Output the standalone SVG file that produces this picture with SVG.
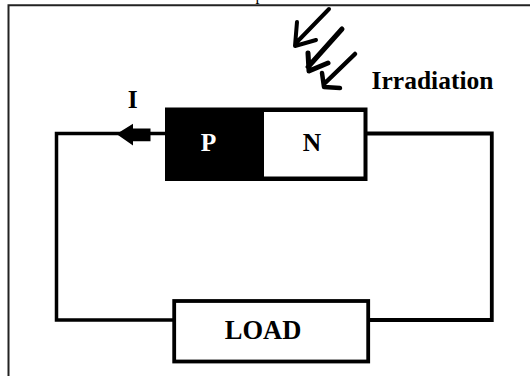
<svg xmlns="http://www.w3.org/2000/svg" width="530" height="376" viewBox="0 0 530 376">
<style>
.t{font-family:"Liberation Serif","Times New Roman",serif;font-weight:bold;fill:#000;font-size:25.5px;text-anchor:middle}
.w{fill:none;stroke:#000;stroke-linecap:butt;stroke-linejoin:miter}
.ray{fill:none;stroke:#000;stroke-width:4;stroke-linecap:round;stroke-linejoin:round}
</style>
<rect width="530" height="376" fill="#fff"/>
<path d="M8.500 376V5.200H530" fill="none" stroke="#222" stroke-width="2"/>
<text x="259.500" y="0" style="font-family:'Liberation Serif','Times New Roman',serif;font-size:16px;text-anchor:middle" fill="#000">p</text>
<g id="connectors">
<path class="w" stroke-width="3.500" d="M166 133.500H56.500V320H173"/>
<path class="w" stroke-width="3.800" d="M366 133.500H491.800V320H369"/>
<path id="current-arrow" fill="#000" d="M150.500 128.500H133V123.700L116.500 134L133 145.500V141.300H150.500Z"/>
</g>
<g id="rays">
<path class="ray" d="M329 9L296 43M297 22L295 46L316 40"/>
<path class="ray" style="stroke-width:5" d="M342 29L308 67M308 53L309 71L328 63"/>
<path class="ray" style="stroke-width:4.500" d="M355 54L325 83M322 73L324 87L340 88"/>
</g>
<g id="pn-junction">
<rect x="165" y="107.500" width="202.500" height="73.500" fill="#000"/>
<rect x="264" y="112" width="99.500" height="64.500" fill="#fff"/>
<text class="t" x="208.500" y="151" style="fill:#fff">P</text>
<text class="t" x="312" y="151">N</text>
</g>
<g id="load">
<rect x="174.200" y="301" width="194" height="60.500" fill="#fff" stroke="#000" stroke-width="3.800"/>
<text class="t" x="263" y="338.500" style="font-size:26.500px">LOAD</text>
</g>
<text class="t" x="132.700" y="107.500">I</text>
<text class="t" x="432.500" y="88.500">Irradiation</text>
</svg>
